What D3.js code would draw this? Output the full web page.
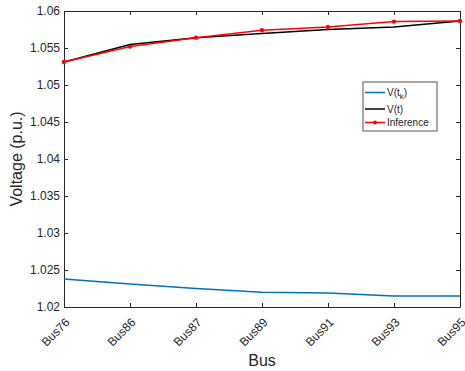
<!DOCTYPE html>
<html>
<head>
<meta charset="utf-8">
<script src="https://cdn.jsdelivr.net/npm/d3@7"></script>
<style>
  body { margin: 0; background: #fff; }
  text { font-family: "Liberation Sans", Arial, sans-serif; fill: #262626; }
</style>
</head>
<body>
<div id="chart"></div>
<script>
"use strict";

// data
var buses = ["Bus76", "Bus86", "Bus87", "Bus89", "Bus91", "Bus93", "Bus95"];
var vtk = [1.0238, 1.0231, 1.0225, 1.0220, 1.0219, 1.0215, 1.0215];
var vt = [1.0531, 1.05546, 1.0564, 1.05695, 1.0575, 1.05784, 1.05865];
var inference = [1.0531, 1.05519, 1.0564, 1.0574, 1.05784, 1.05857, 1.05865];
var yTicks = [1.02, 1.025, 1.03, 1.035, 1.04, 1.045, 1.05, 1.055, 1.06];

var margin = { top: 11, right: 5, bottom: 64, left: 64 },
    W = 465, H = 371,
    w = W - margin.left - margin.right,
    h = H - margin.top - margin.bottom;

var svg = d3.select("#chart").append("svg")
  .attr("width", W).attr("height", H);
var g = svg.append("g")
  .attr("transform", "translate(" + margin.left + "," + margin.top + ")");

var x = d3.scalePoint().domain(buses).range([0, w]);
var y = d3.scaleLinear().domain([1.02, 1.06]).range([h, 0]);

var axisColor = "#262626";

// axes (ticks point inwards like matlab)
var xAxis = g.append("g").attr("transform", "translate(0," + h + ")")
  .call(d3.axisBottom(x).tickSizeInner(-4).tickSizeOuter(0));
xAxis.selectAll("text")
  .attr("x", 0).attr("y", 0).attr("dy", "0.35em")
  .attr("transform", "translate(3,13) rotate(-45)")
  .style("text-anchor", "end")
  .style("font-size", "12px");

var yAxis = g.append("g")
  .call(d3.axisLeft(y).tickValues(yTicks).tickFormat(d3.format("")).tickSizeInner(-4).tickSizeOuter(0).tickPadding(4));
yAxis.selectAll("text").style("font-size", "12px");

// top and right box ticks
g.append("g")
  .call(d3.axisTop(x).tickSizeInner(-4).tickSizeOuter(0).tickFormat(""));
g.append("g").attr("transform", "translate(" + w + ",0)")
  .call(d3.axisRight(y).tickValues(yTicks).tickSizeInner(-4).tickSizeOuter(0).tickFormat(""));

g.selectAll(".domain, .tick line").attr("stroke", axisColor);
g.selectAll(".tick text").attr("fill", axisColor).style("font-family", "Liberation Sans, Arial, sans-serif");

// lines
var line = d3.line()
  .x(function(d, i) { return x(buses[i]); })
  .y(function(d) { return y(d); });

g.append("path").datum(vtk).attr("d", line)
  .attr("fill", "none").attr("stroke", "#0072BD").attr("stroke-width", 1.5);
g.append("path").datum(vt).attr("d", line)
  .attr("fill", "none").attr("stroke", "#000").attr("stroke-width", 1.5);
g.append("path").datum(inference).attr("d", line)
  .attr("fill", "none").attr("stroke", "#ff0000").attr("stroke-width", 1.5);
g.selectAll(".dot").data(inference).enter().append("circle")
  .attr("cx", function(d, i) { return x(buses[i]); })
  .attr("cy", function(d) { return y(d); })
  .attr("r", 2.2).attr("fill", "#ff0000");

// axis labels
svg.append("text")
  .attr("x", margin.left + w / 2).attr("y", 366)
  .attr("text-anchor", "middle").style("font-size", "16px").text("Bus");
svg.append("text")
  .attr("transform", "translate(22," + (margin.top + h / 2) + ") rotate(-90)")
  .attr("text-anchor", "middle").style("font-size", "16px").text("Voltage (p.u.)");

// legend
var lg = svg.append("g").attr("transform", "translate(363,82)");
lg.append("rect").attr("width", 74).attr("height", 49)
  .attr("fill", "#fff").attr("stroke", axisColor).attr("stroke-width", 0.8);
var legendItems = [
  { name: "V(t", sub: "k", tail: ")", color: "#0072BD", y: 10.5, dot: false },
  { name: "V(t)", color: "#000", y: 27, dot: false },
  { name: "Inference", color: "#ff0000", y: 40.5, dot: true }
];
legendItems.forEach(function(d) {
  lg.append("line").attr("x1", 2).attr("x2", 22).attr("y1", d.y).attr("y2", d.y)
    .attr("stroke", d.color).attr("stroke-width", 1.5);
  if (d.dot) lg.append("circle").attr("cx", 12).attr("cy", d.y).attr("r", 2).attr("fill", d.color);
  var t = lg.append("text").attr("x", 24).attr("y", d.y + 3.5).style("font-size", "10px");
  t.append("tspan").text(d.name);
  if (d.sub) {
    t.append("tspan").attr("dy", 3).style("font-size", "8px").text(d.sub);
    t.append("tspan").attr("dy", -3).text(d.tail);
  }
});
</script>
</body>
</html>
